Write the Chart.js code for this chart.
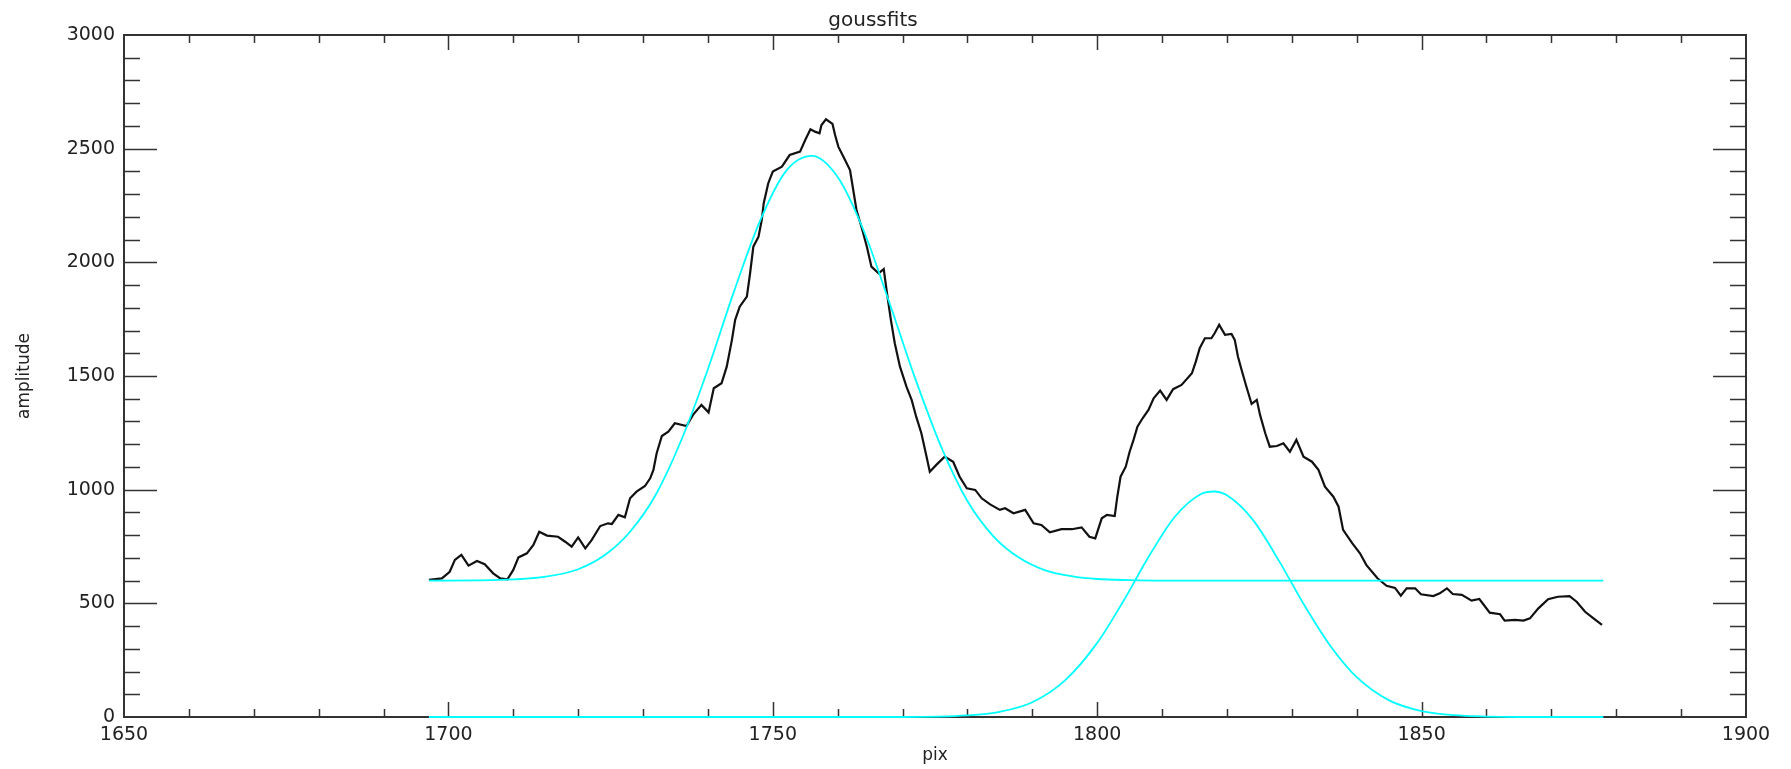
<!DOCTYPE html>
<html>
<head>
<meta charset="utf-8">
<script src="https://cdn.jsdelivr.net/npm/chart.js@4.4.1/dist/chart.umd.min.js"></script>
<style>
  html, body { margin: 0; padding: 0; background: #ffffff; }
  #wrap { width: 1791px; height: 769px; }
</style>
</head>
<body>
<div id="wrap"><canvas id="c" width="1791" height="769"></canvas></div>
<script>
// ---- data ----
const titleText = "goussfits";
const xTitle = "pix";
const yTitle = "amplitude";

const xTickLabels = [1650, 1700, 1750, 1800, 1850, 1900];
const yTickLabels = [0, 500, 1000, 1500, 2000, 2500, 3000];

const pixData = [1697.0,1699.0,1700.2,1701.0,1702.0,1703.1,1704.4,1705.6,1706.9,1708.0,1709.1,1710.0,1710.8,1712.1,1713.1,1714.0,1715.2,1716.9,1718.0,1719.0,1720.0,1721.1,1722.1,1723.4,1724.6,1725.2,1726.2,1727.2,1728.0,1729.0,1730.3,1731.1,1731.6,1732.1,1732.9,1733.9,1734.9,1736.7,1737.7,1739.0,1740.1,1740.9,1742.1,1742.9,1743.7,1744.2,1744.9,1746.0,1746.5,1747.0,1747.8,1748.3,1748.6,1749.3,1750.0,1751.4,1752.6,1754.2,1755.0,1755.8,1756.5,1757.2,1757.5,1758.2,1759.2,1759.6,1760.1,1761.0,1761.9,1762.4,1762.9,1763.8,1764.5,1765.2,1766.3,1767.1,1767.6,1768.2,1768.8,1769.6,1770.6,1771.4,1772.1,1772.9,1773.7,1774.2,1775.2,1776.5,1777.8,1778.8,1779.9,1781.2,1782.2,1783.5,1785.0,1785.8,1787.1,1788.9,1790.2,1791.4,1792.7,1794.5,1796.1,1797.6,1798.8,1799.7,1800.7,1801.5,1802.7,1803.1,1803.6,1804.4,1805.0,1805.6,1806.2,1807.0,1807.9,1808.7,1809.7,1810.7,1811.7,1813.0,1814.6,1815.2,1815.8,1816.6,1817.6,1818.1,1818.8,1819.7,1820.7,1821.2,1821.7,1822.4,1823.0,1823.8,1824.6,1825.1,1825.9,1826.6,1827.7,1828.7,1829.7,1830.7,1831.8,1833.1,1834.1,1835.1,1836.4,1837.2,1837.9,1839.3,1840.5,1841.5,1843.2,1844.6,1845.9,1846.8,1847.7,1849.0,1849.9,1851.8,1852.8,1853.9,1854.8,1856.2,1857.7,1858.9,1860.5,1862.1,1862.8,1864.4,1865.7,1866.7,1868.0,1869.5,1871.0,1872.8,1873.9,1875.2,1876.5,1877.8];
const ampData = [603,610,639,691,713,666,686,672,632,610,606,647,702,720,757,815,798,793,771,749,790,742,779,840,852,849,889,878,962,991,1016,1050,1087,1160,1236,1255,1292,1280,1329,1373,1340,1446,1468,1541,1659,1747,1805,1849,1952,2069,2113,2187,2260,2348,2399,2421,2472,2487,2538,2585,2575,2568,2604,2629,2609,2560,2509,2458,2406,2318,2230,2142,2069,1981,1952,1970,1864,1747,1644,1541,1453,1395,1321,1248,1145,1079,1109,1145,1123,1057,1006,999,962,935,911,918,896,911,852,845,812,826,826,834,793,786,874,889,884,969,1057,1101,1167,1219,1277,1314,1351,1402,1436,1395,1442,1461,1512,1563,1622,1666,1666,1688,1725,1681,1685,1659,1585,1512,1453,1377,1395,1329,1248,1189,1192,1204,1167,1219,1145,1123,1087,1013,969,925,823,765,720,668,610,577,568,534,566,566,540,532,544,566,541,537,512,519,459,452,424,427,424,434,478,518,529,532,507,463,434,405];

const fit1Pix = [1697,1705,1710,1715,1720,1724,1728,1732,1736,1740,1744,1748,1752,1756,1760,1764,1768,1772,1776,1780,1784,1788,1792,1796,1800,1805,1810,1878];
const fit1Amp = [600,601,605,617,650,710,815,980,1225,1530,1870,2180,2400,2468,2375,2140,1820,1485,1185,950,795,700,645,620,607,602,600,600];

const fit2Pix = [1697,1770,1780,1785,1790,1795,1800,1804,1808,1812,1816,1818,1820,1824,1828,1832,1836,1840,1845,1850,1855,1860,1865,1878];
const fit2Amp = [0,0,7,23,65,160,326,508,708,882,981,992,975,867,688,488,310,175,73,26,8,2,0,0];

function pts(xs, ys) { return xs.map((v, i) => ({ x: v, y: ys[i] })); }

const axisColor = '#333333';
const textColor = '#222222';

const frameTicks = {
  id: 'frameTicks',
  beforeDatasetsDraw(chart) {
    const { ctx, chartArea: { left, right, top, bottom }, scales: { x, y } } = chart;
    ctx.save();
    ctx.strokeStyle = axisColor;
    ctx.lineWidth = 1.5;
    ctx.beginPath();
    x.ticks.forEach(t => {
      if (t.value <= x.min || t.value >= x.max) return;
      const px = Math.round(x.getPixelForValue(t.value)) + 0.5;
      const major = xTickLabels.includes(t.value);
      const len = major ? 15 : 8;
      ctx.moveTo(px, bottom); ctx.lineTo(px, bottom - len);
      ctx.moveTo(px, top); ctx.lineTo(px, top + len);
    });
    y.ticks.forEach(t => {
      if (t.value <= y.min || t.value >= y.max) return;
      const py = Math.round(y.getPixelForValue(t.value)) + 0.5;
      const major = yTickLabels.includes(t.value);
      const len = major ? 33 : 16;
      ctx.moveTo(left, py); ctx.lineTo(left + len, py);
      ctx.moveTo(right, py); ctx.lineTo(right - len, py);
    });
    ctx.stroke();
    ctx.lineWidth = 2;
    ctx.strokeRect(left, top, right - left, bottom - top);
    ctx.restore();
  }
};

new Chart(document.getElementById('c'), {
  type: 'line',
  data: {
    datasets: [
      { data: pts(fit1Pix, fit1Amp), borderColor: '#00ffff', borderWidth: 1.8, pointRadius: 0, cubicInterpolationMode: 'monotone', fill: false, clip: false },
      { data: pts(fit2Pix, fit2Amp), borderColor: '#00ffff', borderWidth: 1.8, pointRadius: 0, cubicInterpolationMode: 'monotone', fill: false, clip: false },
      { data: pts(pixData, ampData), borderColor: '#111111', borderWidth: 2.2, pointRadius: 0, tension: 0, fill: false }
    ]
  },
  options: {
    responsive: false,
    animation: false,
    parsing: true,
    layout: { padding: { left: 0, right: 45, top: 0, bottom: 0 } },
    plugins: {
      legend: { display: false },
      tooltip: { enabled: false },
      title: {
        display: true, text: titleText, color: textColor,
        font: { family: 'DejaVu Sans', size: 20, weight: 'normal', lineHeight: 1.2 },
        padding: { top: 9, bottom: 2 }
      }
    },
    scales: {
      x: {
        type: 'linear', min: 1650, max: 1900,
        grid: { display: false, drawTicks: false, tickLength: 0 },
        border: { display: false },
        ticks: {
          stepSize: 10, autoSkip: false, maxRotation: 0, padding: 7,
          color: textColor, font: { family: 'DejaVu Sans', size: 19 },
          callback: v => xTickLabels.includes(v) ? String(v) : ''
        },
        title: { display: true, text: xTitle, color: textColor, font: { family: 'DejaVu Sans', size: 17 }, padding: { top: 0, bottom: 3 } },
        afterFit(s) { s.height = 52; s.paddingLeft = 0; s.paddingRight = 0; }
      },
      y: {
        type: 'linear', min: 0, max: 3000,
        grid: { display: false, drawTicks: false, tickLength: 0 },
        border: { display: false },
        ticks: {
          stepSize: 100, autoSkip: false, padding: 9,
          color: textColor, font: { family: 'DejaVu Sans', size: 19 },
          callback: v => yTickLabels.includes(v) ? String(v) : ''
        },
        title: { display: true, text: yTitle, color: textColor, font: { family: 'DejaVu Sans', size: 17 }, padding: { top: 14, bottom: 0 } },
        afterFit(s) { s.width = 124; s.paddingTop = 0; s.paddingBottom = 0; }
      }
    }
  },
  plugins: [frameTicks]
});
</script>
</body>
</html>
